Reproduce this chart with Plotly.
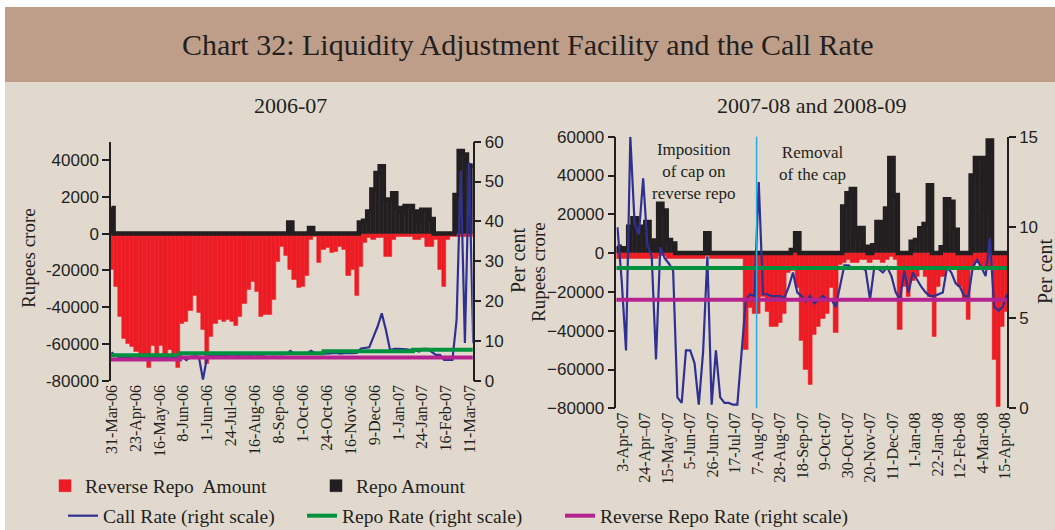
import pandas as pd
import plotly.graph_objects as go

# ---------------- DATA ----------------
# 2006-07 panel: samples every 4 days starting 31-Mar-2006 (Rupees crore)
left_start = "2006-03-31"
left_reverse_repo = [
    -19600, -28700, -45000, -57000, -60000, -61500, -64000, -69000, -66000, -73000,
    -61000, -69000, -61000, -69000, -63000, -67000, -73000, -49000, -48000, -42000,
    -34000, -43000, -52000, -71000, -56000, -49000, -47000, -48000, -47000, -48000,
    -50000, -45000, -38000, -30500, -26000, -31500, -45000, -44000, -44000, -36000,
    -15000, -7000, -12000, -19600, -25000, -29600, -28700, -23000, -3300, -1500,
    -16000, -8700, -7800, -10500, -9600, -6900, -8700, -23000, -19600, -34000,
    -17800, -5000, -2400, -3300, -2400, -2400, -12400, -12400, -3300, -1500,
    -1500, -1500, -1500, -3300, -3300, -2400, -6900, -6900, -3300, -19600,
    -28700, -3300, -1500, -1500, -1500, -1500, -1500, -1500]
left_repo = [
    14000, 0, 0, 0, 0, 0, 0, 0, 0, 0,
    0, 0, 0, 0, 0, 0, 0, 0, 0, 0,
    0, 0, 0, 0, 0, 0, 0, 0, 0, 0,
    0, 0, 0, 0, 0, 0, 0, 0, 0, 0,
    0, 0, 0, 6000, 0, 0, 0, 0, 3000, 0,
    0, 0, 0, 0, 0, 0, 0, 0, 0, 0,
    6000, 7000, 12000, 24000, 33000, 36600, 18500, 18500, 22000, 14000,
    12000, 15000, 15000, 12000, 6000, 13000, 13000, 8000, 0, 0,
    0, 0, 0, 21000, 45000, 43000, 37000, 37000]
left_call_rate = [
    7.1, 6.3, 5.8, 5.8, 5.8, 5.6, 5.6, 5.7, 5.8, 5.6,
    5.7, 5.8, 5.7, 5.8, 5.6, 5.7, 5.8, 6.0, 5.2, 6.0,
    6.2, 6.0, 0.3, 6.0, 6.3, 6.4, 6.5, 6.4, 6.5, 6.6,
    6.4, 6.5, 6.6, 6.5, 6.6, 6.6, 6.5, 6.6, 6.7, 6.6,
    6.7, 6.6, 6.7, 7.5, 6.8, 6.8, 6.9, 6.9, 7.5, 6.9,
    6.9, 7.0, 6.8, 6.9, 7.0, 6.8, 6.9, 7.0, 6.9, 7.0,
    8.1, 8.3, 8.4, 11.0, 13.6, 16.9, 12.7, 7.7, 8.0, 8.0,
    8.0, 7.9, 7.7, 7.6, 7.3, 8.0, 8.0, 7.3, 6.5, 6.5,
    5.2, 5.2, 5.2, 15.3, 52.7, 9.5, 54.8, 9.4]
left_repo_rate_dates = ["2006-03-30", "2006-06-05", "2006-10-21", "2007-01-15", "2007-03-14"]
left_repo_rate = [6.4, 6.9, 7.4, 7.8, 7.8]
left_rev_repo_rate_dates = ["2006-03-30", "2006-06-05", "2007-03-14"]
left_rev_repo_rate = [5.3, 5.8, 5.8]
left_tick_labels = ["31-Mar-06", "23-Apr-06", "16-May-06", "8-Jun-06", "1-Jun-06",
                    "24-Jul-06", "16-Aug-06", "8-Sep-06", "1-Oct-06", "24-Oct-06",
                    "16-Nov-06", "9-Dec-06", "1-Jan-07", "24-Jan-07", "16-Feb-07",
                    "11-Mar-07"]

# 2007-08 panel: samples every 4 days starting 29-Mar-2007 (Rupees crore)
right_start = "2007-03-29"
right_reverse_repo = [
    -3000, -3000, -3000, -3000, -3000, -3000, -3000, -3000, -3000, -3000,
    -1500, -1500, -3000, -3000, -3000, -3000, -3000, -3000, -3000, -3000,
    -3000, -1500, -3000, -3000, -3000, -3000, -3000, -3000, -3000, -3000,
    -50000, -28000, -31000, -31000, -22500, -30000, -38000, -38000, -36000, -31000,
    -10000, -9000, -18000, -45000, -60000, -68000, -42000, -38000, -34000, -31000,
    -18000, -41000, -6000, -5000, -3500, -5000, -5000, -3500, -3500, -5000,
    -3500, -3500, -5000, -3500, -2000, -3500, -39600, -17300, -22500, -14000,
    -12000, -7000, -12000, -22500, -43000, -17300, -12000, -7000, -7000, -8800,
    -17300, -24000, -34500, -8800, -5000, -7000, -8800, -8800, -55000, -79000,
    -38000, -30000]
right_repo = [
    3300, 2500, 2500, 13600, 18000, 13600, 12000, 16000, 6500, 1600,
    25500, 22000, 6800, 5000, 0, 0, 0, 0, 0, 0,
    0, 10200, 0, 0, 0, 0, 0, 0, 0, 0,
    0, 0, 0, 0, 0, 0, 0, 0, 0, 0,
    0, 1600, 10200, 0, 0, 0, 0, 0, 0, 0,
    0, 0, 0, 24000, 30800, 33000, 8400, 13000, 3300, 0,
    4000, 16000, 4000, 23000, 49000, 30000, 0, 0, 0, 5800,
    6700, 12800, 15000, 35000, 0, 0, 3000, 27700, 26500, 12000,
    0, 0, 0, 40000, 49000, 49000, 22000, 58000, 0, 0,
    0, 0]
right_call_rate = [
    10.0, 7.0, 3.2, 15.0, 10.2, 9.6, 12.7, 9.0, 8.4, 2.7,
    8.9, 8.3, 8.0, 7.6, 0.6, 0.3, 3.2, 3.2, 2.5, 0.2,
    3.1, 8.4, 0.2, 3.2, 0.6, 0.3, 0.3, 0.2, 0.2, 3.0,
    6.0, 6.3, 6.2, 12.5, 6.3, 6.3, 6.2, 6.2, 6.2, 6.1,
    6.7, 7.5, 6.4, 6.2, 5.9, 6.2, 5.8, 6.0, 6.2, 6.0,
    6.0, 5.6, 6.7, 7.9, 7.9, 7.7, 7.7, 7.8, 7.6, 6.0,
    7.8, 7.7, 7.5, 7.8, 7.3, 6.4, 6.0, 7.6, 6.4, 7.5,
    7.1, 6.7, 6.4, 6.2, 6.2, 6.3, 6.4, 7.8, 7.5, 6.9,
    6.7, 6.2, 6.2, 7.8, 8.2, 7.8, 7.3, 9.4, 5.6, 5.4,
    5.6, 6.3]
right_repo_rate_dates = ["2007-03-27", "2008-03-28"]
right_repo_rate = [7.75, 7.75]
right_rev_repo_rate_dates = ["2007-03-27", "2008-03-28"]
right_rev_repo_rate = [6.0, 6.0]
right_tick_labels = ["3-Apr-07", "24-Apr\u201307", "15-May-07", "5-Jun-07", "26-Jun-07",
                     "17-Jul-07", "7-Aug-07", "28-Aug-07", "18-Sep-07", "9-Oct-07",
                     "30-Oct-07", "20-Nov-07", "11-Dec-07", "1-Jan-08", "22-Jan-08",
                     "12-Feb-08", "4-Mar-08", "15-Apr-08"]
cap_removal_date = "2007-08-06"

# ---------------- STYLE ----------------
RED = "#ED1C24"
BLACK = "#231F20"
BLUE = "#2E3192"
GREEN = "#00913F"
MAGENTA = "#B5238F"
CYAN = "#29ABE2"
BAND = "#BF9E89"
BODY = "#E1D9CE"
SERIF = "Liberation Serif"
SANS = "Liberation Sans"
W, H = 1055, 530
STEP_DAYS = 4
BAR_MS = STEP_DAYS * 24 * 3600 * 1000


def px(x):
    return x / W


def py(y):
    return 1 - y / H


left_dates = pd.date_range(left_start, periods=len(left_reverse_repo), freq=f"{STEP_DAYS}D")
right_dates = pd.date_range(right_start, periods=len(right_reverse_repo), freq=f"{STEP_DAYS}D")
left_ticks = pd.date_range("2006-03-31", periods=len(left_tick_labels), freq="23D")
right_ticks = pd.date_range("2007-04-03", periods=len(right_tick_labels), freq="21D")

fig = go.Figure()


def add_panel(dates, rev, rep, call, rr_x, rr_y, rrr_x, rrr_y, xa, ya, ya2, show):
    fig.add_trace(go.Bar(x=dates, y=rev, width=BAR_MS, name="Reverse Repo\u00a0 Amount",
                         marker=dict(color=RED, line=dict(color=RED, width=0.5)),
                         legend="legend", showlegend=show, xaxis=xa, yaxis=ya))
    fig.add_trace(go.Bar(x=dates, y=rep, width=BAR_MS, name="Repo Amount",
                         marker=dict(color=BLACK, line=dict(color=BLACK, width=0.5)),
                         legend="legend", showlegend=show, xaxis=xa, yaxis=ya))
    fig.add_trace(go.Scatter(x=dates, y=rep, mode="lines", showlegend=False,
                             line=dict(color=BLACK, width=4.5, shape="hvh"),
                             hoverinfo="skip", xaxis=xa, yaxis=ya))
    fig.add_trace(go.Scatter(x=dates, y=call, mode="lines", name="Call Rate (right scale)",
                             line=dict(color=BLUE, width=2.2), legend="legend2",
                             legendwidth=194, showlegend=show, xaxis=xa, yaxis=ya2))
    fig.add_trace(go.Scatter(x=rr_x, y=rr_y, mode="lines", name="Repo Rate (right scale)",
                             line=dict(color=GREEN, width=4, shape="hv"), legend="legend2",
                             legendwidth=213, showlegend=show, xaxis=xa, yaxis=ya2))
    fig.add_trace(go.Scatter(x=rrr_x, y=rrr_y, mode="lines",
                             name="Reverse Repo Rate (right scale)",
                             line=dict(color=MAGENTA, width=4, shape="hv"), legend="legend2",
                             legendwidth=280, showlegend=show, xaxis=xa, yaxis=ya2))


add_panel(left_dates, left_reverse_repo, left_repo, left_call_rate,
          left_repo_rate_dates, left_repo_rate, left_rev_repo_rate_dates, left_rev_repo_rate,
          "x", "y", "y2", True)
add_panel(right_dates, right_reverse_repo, right_repo, right_call_rate,
          right_repo_rate_dates, right_repo_rate, right_rev_repo_rate_dates, right_rev_repo_rate,
          "x2", "y3", "y4", False)

yax_common = dict(showgrid=False, zeroline=False, showline=True, linecolor=BLACK, linewidth=1.5,
                  ticks="outside", ticklen=7, tickwidth=1.5, tickcolor=BLACK, tickformat="d",
                  automargin=False, tickfont=dict(family=SANS, size=17, color=BLACK))
xax_common = dict(type="date", showgrid=False, zeroline=False, showline=False, ticks="",
                  tickangle=-90, automargin=False,
                  tickfont=dict(family=SERIF, size=16, color=BLACK))

fig.update_layout(
    width=W, height=H, margin=dict(l=0, r=0, t=0, b=0, pad=0, autoexpand=False),
    paper_bgcolor="white", plot_bgcolor="rgba(0,0,0,0)",
    barmode="overlay", bargap=0,
    xaxis=dict(domain=[px(111), px(472.7)], anchor="y",
               range=["2006-03-30 12:00", "2007-03-13 12:00"],
               tickvals=left_ticks, ticktext=left_tick_labels, **xax_common),
    yaxis=dict(domain=[py(380.7), py(141.7)], anchor="x", range=[-80000, 50000],
               tickvals=[-80000, -60000, -40000, -20000, 0, 20000, 40000],
               ticktext=["-80000", "-60000", "-40000", "-20000", "0", "2000", "40000"],
               **yax_common),
    yaxis2=dict(overlaying="y", side="right", anchor="x", range=[0, 60],
                tickvals=[0, 10, 20, 30, 40, 50, 60], **yax_common),
    xaxis2=dict(domain=[px(616.4), px(1007)], anchor="y3",
                range=["2007-03-28", "2008-03-27"],
                tickvals=right_ticks, ticktext=right_tick_labels, **xax_common),
    yaxis3=dict(domain=[py(408.3), py(136.7)], anchor="x2", range=[-80000, 60000],
                tickvals=[-80000, -60000, -40000, -20000, 0, 20000, 40000, 60000],
                **yax_common),
    yaxis4=dict(overlaying="y3", side="right", anchor="x2", range=[0, 15],
                tickvals=[0, 5, 10, 15], **yax_common),
    legend=dict(orientation="h", x=px(45), xanchor="left", y=py(486), yanchor="middle",
                bgcolor="rgba(0,0,0,0)", entrywidth=226, entrywidthmode="pixels",
                font=dict(family=SERIF, size=19.5, color=BLACK)),
    legend2=dict(orientation="h", x=px(63), xanchor="left", y=py(516), yanchor="middle",
                 bgcolor="rgba(0,0,0,0)", entrywidthmode="pixels",
                 font=dict(family=SERIF, size=19.5, color=BLACK)),
    shapes=[
        dict(type="rect", xref="paper", yref="paper", x0=px(5), x1=1, y0=0, y1=py(7),
             fillcolor=BODY, line=dict(width=0), layer="below"),
        dict(type="rect", xref="paper", yref="paper", x0=px(5), x1=1, y0=py(82), y1=py(7),
             fillcolor=BAND, line=dict(width=0), layer="below"),
        dict(type="line", xref="x2", yref="y3 domain", x0=cap_removal_date, x1=cap_removal_date,
             y0=0, y1=1, line=dict(color=CYAN, width=1.5), layer="above"),
    ],
)

ann = [
    dict(text="Chart 32: Liquidity Adjustment Facility and the Call Rate", x=0.5, y=py(45),
         font=dict(family=SERIF, size=30, color=BLACK)),
    dict(text="2006-07", x=px(290), y=py(105), font=dict(family=SERIF, size=22, color=BLACK)),
    dict(text="2007-08 and 2008-09", x=px(811), y=py(105),
         font=dict(family=SERIF, size=22, color=BLACK)),
    dict(text="Rupees crore", x=px(28), y=py(258), textangle=-90,
         font=dict(family=SERIF, size=19, color=BLACK)),
    dict(text="Per cent", x=px(518), y=py(261), textangle=-90,
         font=dict(family=SERIF, size=20, color=BLACK)),
    dict(text="Rupees crore", x=px(538), y=py(272), textangle=-90,
         font=dict(family=SERIF, size=19, color=BLACK)),
    dict(text="Per cent", x=px(1045), y=py(272), textangle=-90,
         font=dict(family=SERIF, size=20, color=BLACK)),
    dict(text="Imposition<br>of cap on<br>reverse repo", x=px(694), y=py(171),
         font=dict(family=SERIF, size=17, color=BLACK)),
    dict(text="Removal<br>of the cap", x=px(812), y=py(163),
         font=dict(family=SERIF, size=17, color=BLACK)),
]
for a in ann:
    a.update(xref="paper", yref="paper", showarrow=False, xanchor="center", yanchor="middle")
fig.update_layout(annotations=ann)

fig.write_html("out.html", config={"displayModeBar": False},
               post_script="document.body.style.margin='0px';")
